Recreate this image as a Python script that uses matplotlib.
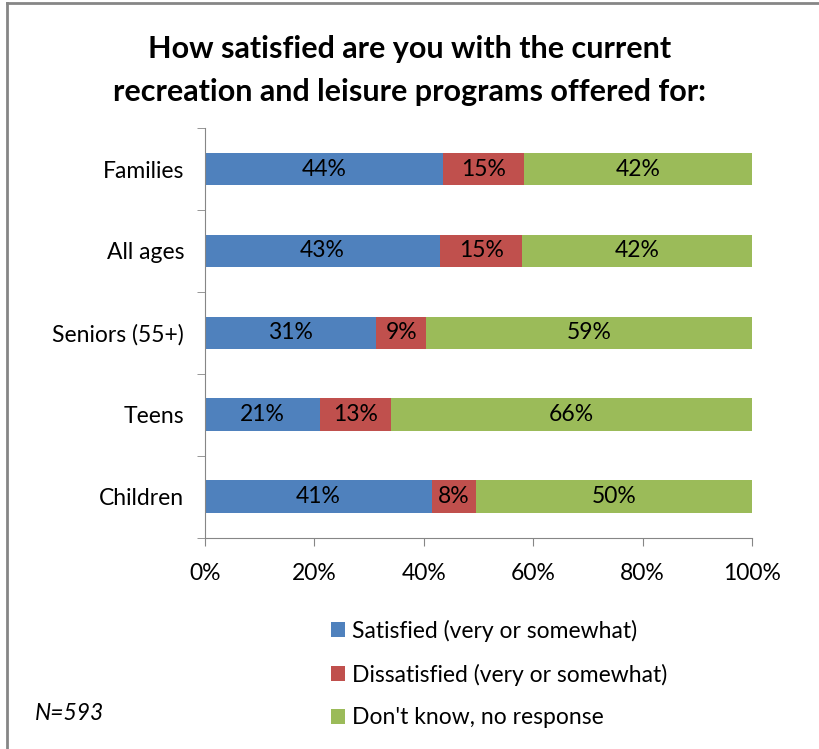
import numpy as np
import matplotlib.pyplot as plt
from matplotlib.lines import Line2D

plt.rcParams['font.family'] = ['Lato', 'DejaVu Sans']

groups = ['Families', 'All ages', 'Seniors (55+)', 'Teens', 'Children']
satisfied = [44, 43, 31, 21, 41]
dissatisfied = [15, 15, 9, 13, 8]
dont_know = [42, 42, 59, 66, 50]
series_names = ['Satisfied (very or somewhat)',
                'Dissatisfied (very or somewhat)',
                "Don't know, no response"]
colors = ['#4F81BD', '#C0504D', '#9BBB59']

vals = np.array([satisfied, dissatisfied, dont_know], dtype=float)
shares = vals / vals.sum(axis=0) * 100  # 100% stacked

fig = plt.figure(figsize=(8.2, 7.49), dpi=100)
ax = fig.add_axes([0.25, 0.282, 0.667, 0.547])

fs = 16.5
ypos = np.arange(len(groups))[::-1]
left = np.zeros(len(groups))
for i in range(3):
    ax.barh(ypos, shares[i], left=left, height=0.4, color=colors[i],
            label=series_names[i])
    for y, l, w, v in zip(ypos, left, shares[i], vals[i]):
        ax.text(l + w / 2, y, f'{int(v)}%', ha='center', va='center',
                fontsize=fs, color='black')
    left += shares[i]

ax.set_xlim(0, 100)
ax.set_ylim(-0.5, len(groups) - 0.5)
ax.set_xticks(np.arange(0, 101, 20))
ax.set_xticklabels([f'{t}%' for t in range(0, 101, 20)], fontsize=fs)
ax.set_yticks(ypos)
ax.set_yticklabels(groups, fontsize=fs)
ax.set_yticks(np.arange(-0.5, len(groups), 1), minor=True)
ax.tick_params(axis='y', which='major', length=0, pad=15)
ax.tick_params(axis='y', which='minor', length=6, color='#868686', direction='out')
ax.tick_params(axis='x', length=6, color='#868686', direction='out', pad=12)
for s in ['top', 'right']:
    ax.spines[s].set_visible(False)
for s in ['left', 'bottom']:
    ax.spines[s].set_color('#868686')

fig.text(0.5, 0.906, 'How satisfied are you with the current\nrecreation and leisure programs offered for:',
         ha='center', va='center', fontsize=22, fontweight='bold', linespacing=1.65)

ax.legend(loc='upper left', bbox_to_anchor=(0.39, 0.188), bbox_transform=fig.transFigure,
          frameon=False, fontsize=fs, handlelength=0.6, handleheight=0.6,
          handletextpad=0.3, labelspacing=0.95, borderpad=0)

fig.text(0.043, 0.047, 'N=593', fontsize=fs, style='italic', va='center')

# chart frame: only top and left edges fall inside the image
fig.lines.append(Line2D([0.008, 0.008], [0, 0.996], transform=fig.transFigure,
                        color='#868686', linewidth=2))
fig.lines.append(Line2D([0.008, 1], [0.996, 0.996], transform=fig.transFigure,
                        color='#868686', linewidth=2))

fig.savefig('out.png', dpi=100)
